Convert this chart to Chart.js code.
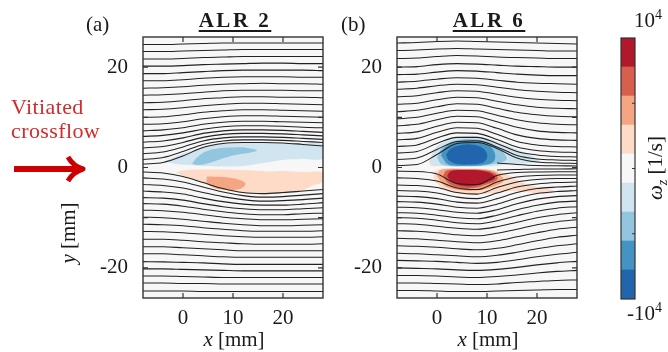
<!DOCTYPE html>
<html>
<head>
<meta charset="utf-8">
<script src="https://cdn.jsdelivr.net/npm/chart.js@4.4.0/dist/chart.umd.min.js"></script>
<style>
  body { margin: 0; background: #fff; }
  #fig { position: relative; width: 668px; height: 352px; overflow: hidden; font-family: 'Liberation Serif', serif; color: #1a1a1a; }
  #fig canvas { position: absolute; top: 0; }
  .txt { position: absolute; font-size: 21px; line-height: 21px; white-space: nowrap; }
  .title { font-weight: bold; text-decoration: underline; text-underline-offset: 3px; letter-spacing: 2.5px; transform: translateX(-50%); }
  .center { transform: translateX(-50%); }
  .red { color: #d22b2b; font-size: 22px; letter-spacing: 0.4px; line-height: 24px; }
  sup { font-size: 14px; vertical-align: 8px; line-height: 0; }
</style>
</head>
<body>
<div id="fig">
  <canvas id="panelA" width="334" height="352" style="left:0"></canvas>
  <canvas id="panelB" width="334" height="352" style="left:334px"></canvas>
  <canvas id="cbar" width="68" height="352" style="left:600px"></canvas>

  <div class="txt" style="left:86px; top:14px">(a)</div>
  <div class="txt title" style="left:235px; top:10px">ALR 2</div>
  <div class="txt" style="left:341px; top:14px">(b)</div>
  <div class="txt title" style="left:489px; top:10px">ALR 6</div>

  <div class="txt red" style="left:11px; top:95px">Vitiated<br>crossflow</div>
  <svg style="position:absolute; left:14px; top:153px" width="72" height="32">
    <path d="M0 16 H62" stroke="#cc0000" stroke-width="6" fill="none"/>
    <path d="M54 4 Q59 13 69 16 Q59 19 54 28" stroke="#cc0000" stroke-width="5" fill="none" stroke-linejoin="round"/>
  </svg>

  <div class="txt" style="left:68px; top:233px; transform: translate(-50%,-50%) rotate(-90deg)"><i>y</i> [mm]</div>
  <div class="txt center" style="left:234px; top:329px"><i>x</i> [mm]</div>
  <div class="txt center" style="left:488px; top:329px"><i>x</i> [mm]</div>

  <div class="txt" style="left:634px; top:10px">10<sup>4</sup></div>
  <div class="txt" style="left:627px; top:303px">-10<sup>4</sup></div>
  <div class="txt" style="left:659px; top:168px; transform: translate(-50%,-50%) rotate(-90deg)"><i>ω<sub style="font-size:14px">z</sub></i> [1/s]</div>
</div>

<script>
// Axis ticks (shared by both panels)
const xTickValues = [0, 10, 20];
const xTickLabels = ['0', '10', '20'];
const yTickValues = [-20, -10, 0, 10, 20];
const yTickLabels = ['-20', '', '0', '', '20'];

// x stations where every streamline is sampled [mm]
const stationsX = [-8, -4, 0, 4, 8, 12, 16, 20, 24, 28];

// Vorticity levels and colours (9 bands, -1e4 .. 1e4)
const levelValues = [-4, -3, -2, -1, 0, 1, 2, 3, 4];
const levelColors = ['#2166ac', '#4393c3', '#92c5de', '#d1e5f0', '#f7f7f7', '#fddbc7', '#f4a582', '#d6604d', '#b2182b'];
const cbarEdges = [-10000, -7778, -5556, -3333, -1111, 1111, 3333, 5556, 7778, 10000];
const cbarTicks = [-5000, 0, 5000];

// ALR 2 streamlines, y [mm] at stationsX
const streamA = [
  [24.5, 24.5, 24.6, 24.7, 24.8, 24.8, 24.8, 24.8, 24.8, 24.8],
  [23.1, 23.1, 23.2, 23.3, 23.4, 23.5, 23.5, 23.5, 23.5, 23.5],
  [21.6, 21.6, 21.7, 21.9, 22.0, 22.1, 22.1, 22.1, 22.1, 22.1],
  [20.2, 20.2, 20.3, 20.5, 20.6, 20.7, 20.8, 20.8, 20.7, 20.7],
  [18.7, 18.7, 18.9, 19.1, 19.3, 19.4, 19.4, 19.4, 19.4, 19.3],
  [17.3, 17.3, 17.5, 17.8, 18.0, 18.1, 18.1, 18.1, 18.0, 18.0],
  [15.8, 15.9, 16.1, 16.4, 16.6, 16.7, 16.8, 16.7, 16.7, 16.6],
  [14.4, 14.5, 14.7, 15.0, 15.3, 15.4, 15.4, 15.4, 15.3, 15.3],
  [12.9, 13.0, 13.3, 13.7, 13.9, 14.1, 14.1, 14.0, 14.0, 13.9],
  [11.5, 11.6, 11.9, 12.3, 12.6, 12.8, 12.8, 12.7, 12.6, 12.5],
  [10.0, 10.1, 10.5, 11.0, 11.3, 11.5, 11.5, 11.4, 11.3, 11.2],
  [8.6, 8.7, 9.1, 9.7, 10.1, 10.3, 10.3, 10.2, 10.1, 10.0],
  [7.3, 7.5, 7.9, 8.6, 9.0, 9.2, 9.2, 9.1, 9.0, 8.9],
  [6.2, 6.4, 6.9, 7.6, 8.1, 8.3, 8.3, 8.2, 8.0, 7.9],
  [5.05, 5.3, 5.9, 6.8, 7.3, 7.5, 7.5, 7.4, 7.2, 7.0],
  [3.9, 4.2, 5.0, 6.0, 6.6, 6.8, 6.8, 6.7, 6.5, 6.3],
  [2.75, 3.1, 4.1, 5.3, 5.9, 6.1, 6.1, 6.0, 5.8, 5.6],
  [1.6, 2.0, 3.2, 4.6, 5.3, 5.5, 5.5, 5.4, 5.2, 5.0],
  [0.7, 1.0, 2.3, 4.0, 4.8, 5.0, 5.0, 4.9, 4.6, 4.3],
  [-0.9, -1.1, -1.8, -3.0, -4.2, -5.0, -5.2, -5.0, -4.7, -4.4],
  [-2.07, -2.3, -2.9, -3.9, -4.9, -5.6, -5.9, -5.8, -5.5, -5.2],
  [-3.4, -3.6, -4.1, -5.0, -5.8, -6.4, -6.7, -6.6, -6.4, -6.1],
  [-4.7, -4.9, -5.3, -6.1, -6.8, -7.3, -7.5, -7.5, -7.3, -7.0],
  [-6.0, -6.1, -6.5, -7.2, -7.8, -8.2, -8.4, -8.4, -8.2, -8.0],
  [-7.2, -7.3, -7.7, -8.3, -8.8, -9.2, -9.4, -9.4, -9.2, -9.1],
  [-8.5, -8.6, -8.9, -9.4, -9.9, -10.2, -10.4, -10.4, -10.3, -10.2],
  [-9.9, -10.0, -10.3, -10.7, -11.1, -11.4, -11.6, -11.6, -11.5, -11.4],
  [-11.3, -11.4, -11.6, -12.0, -12.3, -12.6, -12.7, -12.7, -12.7, -12.6],
  [-12.75, -12.8, -13.0, -13.3, -13.6, -13.8, -13.9, -13.9, -13.9, -13.8],
  [-14.3, -14.3, -14.5, -14.8, -15.0, -15.2, -15.3, -15.3, -15.3, -15.2],
  [-15.8, -15.8, -16.0, -16.2, -16.4, -16.6, -16.6, -16.6, -16.6, -16.6],
  [-17.2, -17.2, -17.4, -17.6, -17.8, -17.9, -17.9, -17.9, -17.9, -17.9],
  [-18.75, -18.8, -18.9, -19.0, -19.2, -19.3, -19.3, -19.3, -19.3, -19.3],
  [-20.2, -20.2, -20.3, -20.4, -20.5, -20.6, -20.6, -20.6, -20.6, -20.6],
  [-21.6, -21.6, -21.7, -21.8, -21.9, -21.9, -21.9, -21.9, -21.9, -21.9],
  [-23.0, -23.0, -23.1, -23.1, -23.2, -23.2, -23.2, -23.2, -23.2, -23.2],
  [-24.6, -24.6, -24.6, -24.7, -24.7, -24.7, -24.7, -24.7, -24.7, -24.7]
];

// ALR 6 streamlines (null = line not present there)
const streamB = [
  [24.8, 24.9, 25.1, 25.2, 25.1, 25.0, 24.9, 24.8, 24.7, 24.6],
  [23.3, 23.4, 23.6, 23.7, 23.6, 23.5, 23.4, 23.3, 23.2, 23.2],
  [21.7, 21.8, 22.1, 22.3, 22.2, 22.0, 21.9, 21.8, 21.7, 21.7],
  [20.0, 20.1, 20.5, 20.7, 20.6, 20.4, 20.2, 20.1, 20.0, 20.0],
  [18.5, 18.6, 19.0, 19.3, 19.2, 18.9, 18.6, 18.4, 18.3, 18.3],
  [17.0, 17.2, 17.6, 17.9, 17.8, 17.4, 17.0, 16.8, 16.7, 16.6],
  [15.6, 15.8, 16.3, 16.6, 16.5, 16.0, 15.5, 15.2, 15.0, 14.9],
  [14.1, 14.3, 14.9, 15.3, 15.2, 14.6, 14.0, 13.6, 13.4, 13.3],
  [12.6, 12.8, 13.5, 14.0, 13.9, 13.2, 12.5, 12.0, 11.8, 11.7],
  [11.1, 11.4, 12.1, 12.7, 12.6, 11.8, 11.0, 10.5, 10.2, 10.1],
  [9.7, 10.0, 10.8, 11.4, 11.3, 10.4, 9.5, 8.9, 8.6, 8.5],
  [8.3, 8.6, 9.5, 10.2, 10.1, 9.1, 8.0, 7.3, 7.0, 6.9],
  [6.8, 7.1, 8.2, 9.0, 8.9, 7.8, 6.5, 5.8, 5.5, 5.4],
  [5.5, 5.8, 7.0, 7.9, 7.8, 6.6, 5.2, 4.5, 4.2, 4.1],
  [4.2, 4.5, 5.9, 6.9, 6.8, 5.6, 4.1, 3.4, 3.1, 3.0],
  [2.9, 3.2, 4.8, 6.0, 6.0, 4.8, 3.2, 2.5, 2.2, 2.1],
  [1.6, 1.9, 3.6, 5.2, 5.3, 4.1, 2.4, 1.7, 1.5, 1.4],
  [0.4, 0.6, 2.6, 4.8, 5.0, 3.8, 1.9, 1.1, 0.9, 0.8],
  [null, null, null, null, null, 0.9, 0.6, 0.4, 0.35, 0.3],
  [null, null, null, null, null, -0.5, -0.4, -0.3, -0.3, -0.25],
  [-0.75, -0.8, -1.3, -3.2, -3.4, -1.6, -1.0, -0.9, -0.85, -0.85],
  [-2.07, -2.2, -2.7, -4.1, -4.4, -2.9, -1.9, -1.6, -1.5, -1.5],
  [-3.5, -3.6, -4.0, -5.0, -5.3, -4.0, -2.9, -2.4, -2.2, -2.2],
  [-4.6, -4.7, -5.1, -5.9, -6.2, -5.1, -3.9, -3.3, -3.0, -2.9],
  [-5.7, -5.8, -6.2, -6.9, -7.1, -6.2, -5.0, -4.2, -3.9, -3.7],
  [-6.8, -6.9, -7.3, -7.9, -8.1, -7.3, -6.1, -5.2, -4.8, -4.6],
  [-7.9, -8.0, -8.4, -8.9, -9.1, -8.4, -7.2, -6.3, -5.8, -5.6],
  [-9.0, -9.1, -9.5, -10.0, -10.2, -9.5, -8.4, -7.5, -6.9, -6.7],
  [-10.0, -10.1, -10.5, -11.0, -11.2, -10.6, -9.6, -8.7, -8.1, -7.8],
  [-11.2, -11.3, -11.7, -12.1, -12.3, -11.8, -10.9, -10.0, -9.4, -9.0],
  [-12.6, -12.7, -13.0, -13.4, -13.6, -13.1, -12.3, -11.4, -10.8, -10.4],
  [-14.1, -14.2, -14.5, -14.8, -15.0, -14.6, -13.8, -13.0, -12.3, -11.9],
  [-15.6, -15.7, -15.9, -16.2, -16.4, -16.1, -15.4, -14.6, -13.9, -13.5],
  [-17.1, -17.2, -17.4, -17.6, -17.8, -17.5, -16.9, -16.2, -15.6, -15.2],
  [-18.5, -18.6, -18.7, -18.9, -19.1, -18.9, -18.4, -17.8, -17.3, -16.9],
  [-20.0, -20.1, -20.2, -20.4, -20.5, -20.3, -19.9, -19.4, -19.0, -18.7],
  [-21.5, -21.5, -21.6, -21.8, -21.9, -21.7, -21.4, -21.0, -20.7, -20.5],
  [-23.0, -23.0, -23.1, -23.2, -23.3, -23.2, -22.9, -22.7, -22.5, -22.4],
  [-24.5, -24.5, -24.6, -24.7, -24.7, -24.6, -24.5, -24.4, -24.3, -24.3]
];

// Vorticity contour patches [x, y] in mm
const aNeg1 = [[-3.5, 1.3], [-2, 2.0], [0, 2.8], [2, 3.5], [4, 4.1], [6, 4.5], [9, 4.8], [13, 4.9], [18, 4.9], [23, 4.8], [28, 4.6],
  [28, 1.8], [24, 1.7], [20, 1.5], [16, 0.9], [12, 0.3], [8, 0.2], [4, 0.3], [1, 0.5], [-2, 0.8]];
const aNeg2 = [[1.8, 0.8], [2.8, 2.0], [4.5, 3.2], [7, 3.8], [10, 4.0], [13, 3.9], [14.8, 3.4], [13, 2.9], [11, 2.6],
  [8.5, 2.0], [6.5, 1.3], [4.5, 0.7], [2.8, 0.5]];
const aPos1 = [[-1.5, -1.0], [0, -0.6], [3, -0.4], [7, -0.4], [11, -0.5], [14, -0.6], [17, -0.8], [20, -0.7], [24, -0.9], [28, -1.0],
  [28, -2.8], [26, -3.6], [24, -4.5], [21, -5.1], [17, -5.3], [13, -5.2], [9, -4.6], [6, -3.8], [3, -2.7], [0.5, -1.8]];
const aPos2 = [[4.8, -1.8], [8, -1.9], [10.8, -2.3], [12.5, -3.2], [11.6, -4.2], [9, -4.5], [6.3, -4.1], [4.8, -3.1]];

const bNeg1 = [[-1.4, 1.9], [-0.1, 4.2], [2.6, 5.6], [5.9, 6.3], [9.3, 6.0], [11.9, 5.2], [15.3, 3.9], [18.6, 2.5], [20.6, 1.2],
  [18.6, 0.9], [13.9, 0.6], [11.9, 0.3], [5.3, 0.2], [0.6, 0.3], [-1.1, 0.6]];
const bNeg2 = [[0.0, 1.9], [1.0, 4.0], [3.4, 5.3], [6.9, 5.7], [10.0, 5.2], [12.0, 4.2], [13.4, 2.9], [13.9, 1.6], [11.9, 0.8],
  [8.6, 0.35], [3.9, 0.25], [1.0, 0.6]];
const bNeg3 = [[0.8, 2.4], [1.6, 4.0], [4.0, 5.1], [7.9, 5.1], [10.5, 4.3], [11.6, 2.7], [11.3, 1.2], [9.3, 0.5], [5.9, 0.35], [2.3, 0.6]];
const bNeg4 = [[1.8, 2.6], [2.8, 3.8], [4.5, 4.4], [6.6, 4.6], [8.6, 4.2], [9.8, 3.2], [10.0, 1.9], [9.0, 0.9], [6.6, 0.6], [4.0, 0.7], [2.4, 1.4]];
const bPos1 = [[-0.7, -2.4], [-0.4, -0.8], [1.3, -0.2], [5.3, -0.2], [9.3, -0.3], [12.6, -0.8], [14.6, -1.7], [17.3, -3.1], [20.6, -4.0],
  [23.3, -4.6], [21.9, -5.2], [18.6, -5.0], [14.6, -4.7], [10.6, -5.2], [6.6, -5.4], [3.3, -5.0], [0.9, -4.0]];
const bPos1Left = [[-1.6, 1.6], [-0.8, 2.2], [0.0, 1.5], [0.2, 0.5], [-0.6, 0.2], [-1.4, 0.6]];
const bPos2 = [[0.0, -1.7], [0.7, -0.5], [5.3, -0.3], [10.6, -0.5], [12.6, -1.4], [13.3, -2.7], [11.3, -3.8], [7.9, -4.6], [4.6, -4.5], [1.6, -3.7]];
const bPos3 = [[1.2, -1.7], [1.9, -0.6], [5.3, -0.4], [9.9, -0.6], [11.9, -1.4], [12.0, -2.5], [9.9, -3.4], [7.3, -4.1], [4.1, -4.0], [2.2, -3.1]];
const bPos4 = [[2.0, -1.7], [2.8, -0.7], [5.3, -0.5], [8.6, -0.6], [10.9, -1.2], [11.6, -2.1], [9.9, -3.0], [7.3, -3.7], [4.7, -3.6], [2.9, -2.8]];

const contoursA = [[aNeg1, -1], [aNeg2, -2], [aPos1, 1], [aPos2, 2]];
const contoursB = [[bNeg1, -1], [bNeg2, -2], [bNeg3, -3], [bNeg4, -4], [bPos1, 1], [bPos1Left, 1], [bPos2, 2], [bPos3, 3], [bPos4, 4]];

const tickFont = { family: 'Liberation Serif', size: 21 };

function colorFor(level) {
  return levelColors[levelValues.indexOf(level)];
}

// Box, inward ticks and the light background of each panel
const panelFrame = {
  id: 'panelFrame',
  beforeDatasetsDraw(chart) {
    const { ctx, chartArea: a } = chart;
    ctx.save();
    ctx.fillStyle = '#f7f7f7';
    ctx.fillRect(a.left, a.top, a.right - a.left, a.bottom - a.top);
    ctx.restore();
  },
  afterDatasetsDraw(chart) {
    const { ctx, chartArea: a, scales } = chart;
    ctx.save();
    ctx.strokeStyle = '#333';
    ctx.lineWidth = 1.2;
    ctx.beginPath();
    xTickValues.forEach(function(v) {
      const px = scales.x.getPixelForValue(v);
      ctx.moveTo(px, a.bottom); ctx.lineTo(px, a.bottom - 5);
      ctx.moveTo(px, a.top); ctx.lineTo(px, a.top + 5);
    });
    yTickValues.forEach(function(v) {
      const py = scales.y.getPixelForValue(v);
      ctx.moveTo(a.left, py); ctx.lineTo(a.left + 5, py);
      ctx.moveTo(a.right, py); ctx.lineTo(a.right - 5, py);
    });
    ctx.stroke();
    ctx.lineWidth = 1.4;
    ctx.strokeRect(a.left, a.top, a.right - a.left, a.bottom - a.top);
    ctx.restore();
  }
};

function buildPanel(canvasId, lines, contours, axisWidth, rightPad) {
  const datasets = [];

  contours.forEach(function(c) {
    const pts = c[0].map(function(p) { return { x: p[0], y: p[1] }; });
    pts.push(pts[0]); // close the patch
    datasets.push({
      data: pts,
      showLine: true,
      fill: 'shape',
      backgroundColor: colorFor(c[1]),
      borderWidth: 0,
      borderColor: 'rgba(0,0,0,0)',
      pointRadius: 0,
      tension: 0.35,
      order: 60 - Math.abs(c[1]) * 10
    });
  });

  lines.forEach(function(ys) {
    datasets.push({
      data: stationsX.map(function(x, i) { return { x: x, y: ys[i] }; }),
      showLine: true,
      fill: false,
      borderColor: '#222',
      borderWidth: 1.05,
      pointRadius: 0,
      cubicInterpolationMode: 'monotone',
      order: 1
    });
  });

  return new Chart(document.getElementById(canvasId), {
    type: 'scatter',
    data: { datasets: datasets },
    options: {
      responsive: false,
      animation: false,
      events: [],
      layout: { padding: { top: 37, right: rightPad, bottom: 0, left: 0 } },
      plugins: { legend: { display: false }, tooltip: { enabled: false } },
      scales: {
        x: {
          type: 'linear', min: -8, max: 28,
          afterBuildTicks: function(s) { s.ticks = xTickValues.map(function(v) { return { value: v }; }); },
          afterFit: function(s) { s.height = 54; },
          ticks: {
            font: tickFont, color: '#1a1a1a', padding: 8, maxRotation: 0, autoSkip: false,
            callback: function(v) { return xTickLabels[xTickValues.indexOf(v)]; }
          },
          grid: { display: false, drawTicks: false },
          border: { display: false }
        },
        y: {
          type: 'linear', min: -26, max: 26,
          afterBuildTicks: function(s) { s.ticks = yTickValues.map(function(v) { return { value: v }; }); },
          afterFit: function(s) { s.width = axisWidth; },
          ticks: {
            font: tickFont, color: '#1a1a1a', padding: 15, autoSkip: false,
            callback: function(v) { return yTickLabels[yTickValues.indexOf(v)]; }
          },
          grid: { display: false, drawTicks: false },
          border: { display: false }
        }
      }
    },
    plugins: [panelFrame]
  });
}

// Colour bar: one floating bar per vorticity band
const cbarFrame = {
  id: 'cbarFrame',
  afterDatasetsDraw(chart) {
    const { ctx, chartArea: a, scales } = chart;
    ctx.save();
    ctx.strokeStyle = '#333';
    ctx.lineWidth = 1.2;
    ctx.beginPath();
    cbarTicks.forEach(function(v) {
      const py = scales.y.getPixelForValue(v);
      ctx.moveTo(a.right, py); ctx.lineTo(a.right - 3, py);
    });
    ctx.stroke();
    ctx.strokeRect(a.left, a.top, a.right - a.left, a.bottom - a.top);
    ctx.restore();
  }
};

function buildColorbar() {
  const datasets = levelColors.map(function(c, i) {
    return {
      data: [[cbarEdges[i], cbarEdges[i + 1]]],
      backgroundColor: c,
      borderWidth: 0,
      grouped: false,
      barPercentage: 1,
      categoryPercentage: 1
    };
  });
  return new Chart(document.getElementById('cbar'), {
    type: 'bar',
    data: { labels: [''], datasets: datasets },
    options: {
      responsive: false,
      animation: false,
      events: [],
      layout: { padding: { top: 38, right: 33, bottom: 53, left: 21 } },
      plugins: { legend: { display: false }, tooltip: { enabled: false } },
      scales: {
        x: { display: false },
        y: { display: false, min: -10000, max: 10000 }
      }
    },
    plugins: [cbarFrame]
  });
}

buildPanel('panelA', streamA, contoursA, 143, 11);
buildPanel('panelB', streamB, contoursB, 63, 91);
buildColorbar();
</script>
</body>
</html>
